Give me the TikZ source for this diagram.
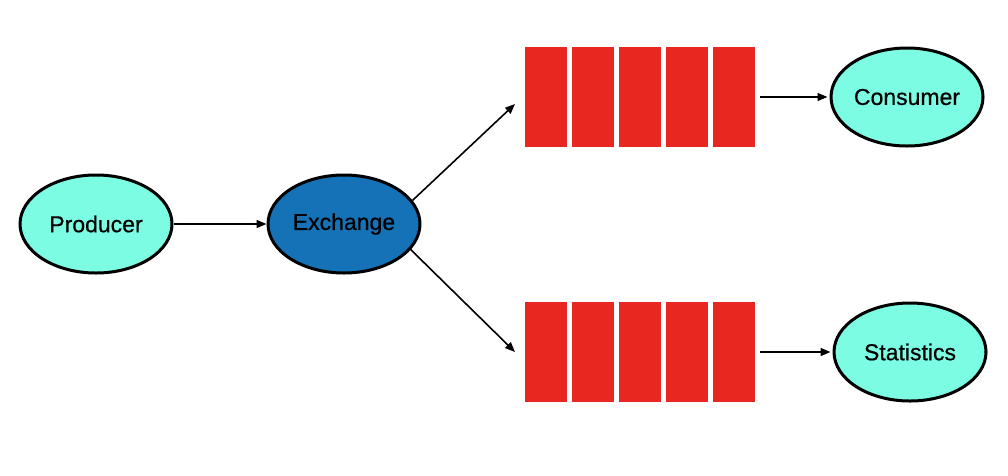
\documentclass[tikz,border=0pt]{standalone}
\usepackage{fontspec}
\setmainfont{Liberation Sans}
\newfontface\labelface{Liberation Sans}[FakeBold=0.6]
\usetikzlibrary{shapes.geometric,arrows.meta}
\definecolor{aqua}{RGB}{125,252,228}
\definecolor{exblue}{RGB}{22,114,183}
\definecolor{queuered}{RGB}{233,39,33}

\begin{document}
\begin{tikzpicture}
    [x=1pt,y=-1pt,%
      every node/.style={font=\labelface\fontsize{23}{27}\selectfont},%
      actor/.style={shape=ellipse,draw,line width=3pt,fill=aqua,
        minimum width=152pt,minimum height=98pt,inner sep=0pt},%
      slot/.style={rectangle,fill=queuered,minimum width=42pt,
        minimum height=100pt,inner sep=0pt},%
      flow/.style={-{Triangle[length=10pt,width=8pt]},line width=1.6pt}]
    \useasboundingbox (0,0) rectangle (1008,475);
    \node[actor] (prod) at (96,224) {Producer};
    \node[actor,fill=exblue] (ex) at (344,224) {Exchange};
    \node[actor] (cons) at (907,97) {Consumer};
    \node[actor] (stats) at (910,352) {Statistics};
    % the two queues
    \foreach \i in {1,...,5} {
      \node[slot] (top\i) at (499+47*\i,97) {};
      \node[slot] (bot\i) at (499+47*\i,352) {};
    }
    \coordinate (intop) at (515,104);
    \coordinate (inbot) at (515,352);
    \draw[flow] (prod.east) -- (ex.west);
    \draw[flow] (ex.19) -- (intop);
    \draw[flow] (ex.-21) -- (inbot);
    \draw[flow,shorten <=5pt,shorten >=2pt] (top5.east) -- (cons.west);
    \draw[flow,shorten <=5pt,shorten >=2pt] (bot5.east) -- (stats.west);
\end{tikzpicture}
\end{document}
